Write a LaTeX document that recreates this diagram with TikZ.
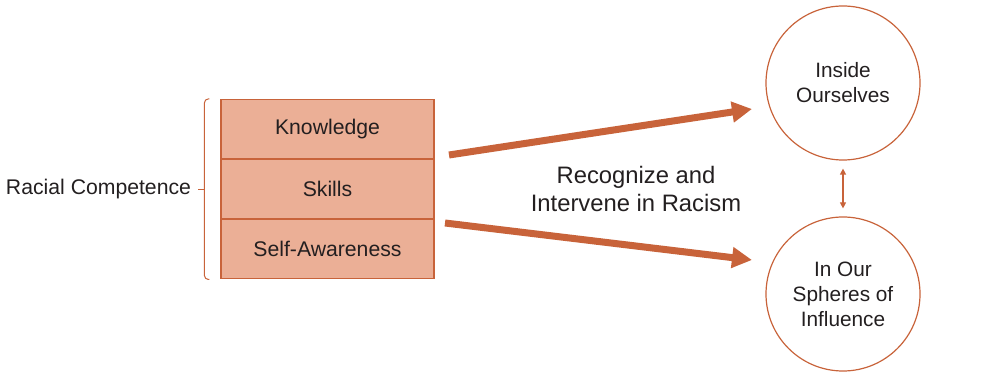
\documentclass[tikz,border=0pt]{standalone}
\usepackage{fontspec}
\setmainfont{Liberation Sans}
\usetikzlibrary{positioning,arrows.meta,calc}

\definecolor{rust}{HTML}{C8633A}
\definecolor{peach}{HTML}{EBAF96}
\definecolor{ink}{HTML}{231F20}

\tikzset{
  layer/.style={draw=rust, line width=0.6pt, fill=peach, minimum width=106.5pt,
    minimum height=29.5pt, inner sep=0pt, font=\fontsize{10.6}{12}\selectfont},
  sphere/.style={circle, draw=rust, line width=0.6pt, minimum size=77pt,
    inner sep=0pt, align=center, font=\fontsize{10.4}{12.5}\selectfont},
  bigarrow/.style={draw=rust, line width=3.5pt, -{Triangle[length=10pt,width=10pt]}},
}

\begin{document}
\begin{tikzpicture}[x=0.5pt, y=-0.5pt, text=ink]
\useasboundingbox (0,0) rectangle (990,373);

% the three layers of the box
\node[layer] (know) at (327.5,129) {Knowledge};
\node[layer] (skills) [below=0pt of know] {Skills};
\node[layer] (self) [below=0pt of skills] {Self-Awareness};

% bracket on the left
\draw[rust, line width=0.5pt, rounded corners=2pt]
  ($(know.north west)+(-11,0)$) -| ($(skills.west)+(-16,0)$) |- ($(self.south west)+(-11,0)$);
\draw[rust, line width=0.5pt] ($(skills.west)+(-16,0)$) -- ($(skills.west)+(-22,0)$);
\node[anchor=east, inner sep=0pt, font=\fontsize{10.6}{12}\selectfont] (comp)
  at ($(skills.west)+(-29,0)$) {Racial Competence};

% the two places
\node[sphere] (inside) at (843,83) {Inside\\Ourselves};
\node[sphere] (spheres) at (843,294) {In Our\\Spheres of\\Influence};

\coordinate (a1) at (449,155);
\coordinate (b1) at (752,109);
\coordinate (a2) at (445,223);
\coordinate (b2) at (752,260);
\draw[bigarrow] (a1) -- (b1);
\draw[bigarrow] (a2) -- (b2);

\node[align=center, font=\fontsize{11.9}{14}\selectfont] (act) at (636,189)
  {Recognize and\\Intervene in Racism};

\draw[rust, line width=0.6pt, {Triangle[length=3pt,width=3pt]}-{Triangle[length=3pt,width=3pt]},
  shorten <=4pt, shorten >=4pt] (inside) -- (spheres);
\end{tikzpicture}
\end{document}
